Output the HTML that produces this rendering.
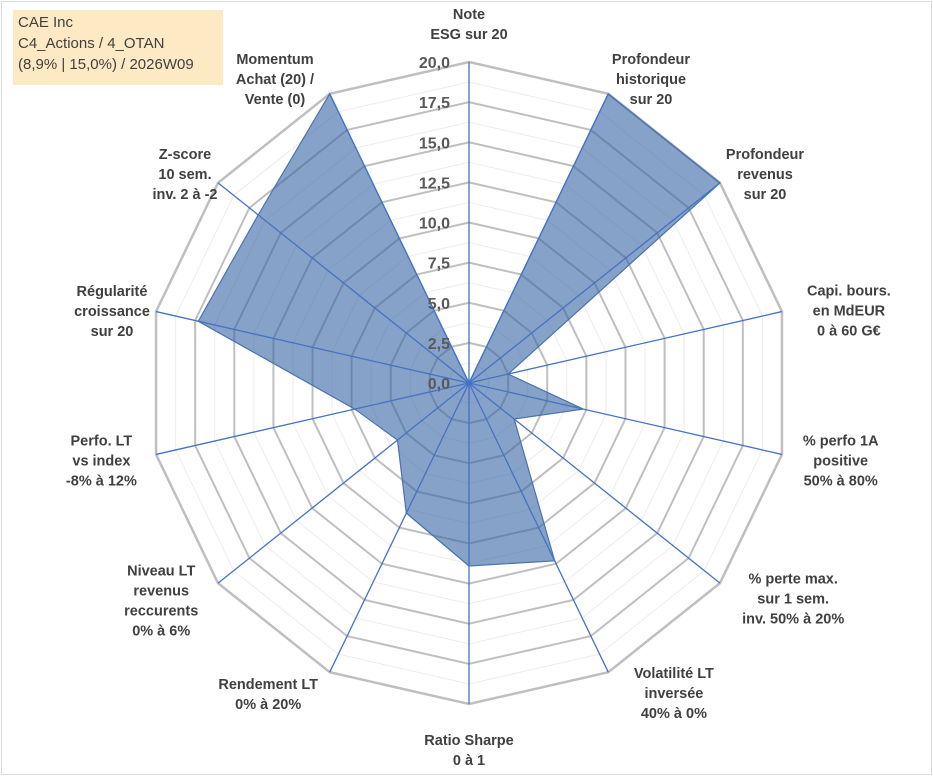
<!DOCTYPE html>
<html><head><meta charset="utf-8"><style>
body{margin:0;background:#fff;font-family:"Liberation Sans",sans-serif}
#wrap{position:relative;width:933px;height:776px;overflow:hidden}
#frame{position:absolute;left:1px;top:1px;width:929px;height:772px;border:1px solid #d9d9d9}
#info{position:absolute;left:13px;top:10px;width:210px;height:75px;background:#fde9c4;color:#404040;font-size:15px;line-height:21px;padding:2px 0 0 5px;box-sizing:border-box}
</style></head><body>
<div id="wrap">
<div id="frame"></div>
<svg id="chart" width="933" height="776" style="position:absolute;left:0;top:0"></svg>
<div id="info">CAE Inc<br>C4_Actions / 4_OTAN<br>(8,9% | 15,0%) / 2026W09</div>
</div>
<script>
const categories=[["Note","ESG sur 20"],["Profondeur","historique","sur 20"],["Profondeur","revenus","sur 20"],["Capi. bours.","en MdEUR","0 à 60 G€"],["% perfo 1A","positive","50% à 80%"],["% perte max.","sur 1 sem.","inv. 50% à 20%"],["Volatilité LT","inversée","40% à 0%"],["Ratio Sharpe","0 à 1"],["Rendement LT","0% à 20%"],["Niveau LT","revenus","reccurents","0% à 6%"],["Perfo. LT","vs index","-8% à 12%"],["Régularité","croissance","sur 20"],["Z-score","10 sem.","inv. 2 à -2"],["Momentum","Achat (20) /","Vente (0)"]];
const values=[0,20,20,2.5,7.3,3.6,12.3,11.4,9,5.7,7.3,17.3,16.8,20];
const tickLabels=["0,0","2,5","5,0","7,5","10,0","12,5","15,0","17,5","20,0"];
const maxVal=20;
const cx=469,cy=383,R=321,N=categories.length;
const labelYShift=[0,0,0,2,5,-20,-17,9,-6,-28,5,0,0,0];
const svg=document.getElementById('chart');
const NS="http://www.w3.org/2000/svg";
function ang(i){return i*2*Math.PI/N;}
function pt(i,v){const r=v/maxVal*R;return [cx+r*Math.sin(ang(i)),cy-r*Math.cos(ang(i))];}
function mk(t,a){const e=document.createElementNS(NS,t);for(const k in a)e.setAttribute(k,a[k]);svg.appendChild(e);return e;}
for(let k=1;k<=16;k++){const v=k*1.25;const pts=[];for(let i=0;i<N;i++)pts.push(pt(i,v).join(','));
 const major=k%2===0;
 const g=mk('polygon',{points:pts.join(' '),fill:'none',stroke:major?'#bfbfbf':'#ececec','stroke-width':major?(k===16?2.5:2):1});
 
 }
const sp=values.map((v,i)=>pt(i,v).join(',')).join(' ');
const poly=mk('polygon',{points:sp,fill:'rgb(55,100,165)','fill-opacity':0.6,stroke:'#4a72ae','stroke-width':1.2});


for(let i=0;i<N;i++){const p=pt(i,maxVal);
 const l=mk('line',{x1:cx,y1:cy,x2:p[0],y2:p[1],stroke:'#4472c4','stroke-width':1.3});
 
 }
tickLabels.forEach((t,k)=>{const v=k*2.5;const y=cy-v/maxVal*R;
 const tx=mk('text',{x:450,y:y+6,'text-anchor':'end','font-size':16,'font-weight':'bold',fill:'#595959','font-family':'Liberation Sans, sans-serif'});
 tx.textContent=t;
 
 });
categories.forEach((lines,i)=>{const a=ang(i);const s=Math.sin(a),c=-Math.cos(a);
 const off=R+(i===0?0:10);
 let x=cx+off*s,y=cy+off*c;
 let anchor='middle';
 if(s>0.3){anchor='start';x+=8;} else if(s<-0.3){anchor='end';x-=8;}
 const lh=20,h=lines.length*lh;
 let y0;
 if(i===0){y0=cy-R-h+12;}
 else if(Math.abs(s)<0.3&&c>0){y0=y+22;}
 else if(c<-0.5){y0=y-h+14;}
 else if(c>0.5){y0=y+14;}
 else y0=y-h/2+14;
 const bw=Math.max(...lines.map(l=>l.length))*8.2;
 let xc=anchor==='start'?x+bw/2:anchor==='end'?x-bw/2:x;
 if(i===13){xc=275;y0=64;} if(i===12){xc=185;y0=159;} if(i===11){xc=112;y0=296;}
 if(i===1){xc=651;y0=64;} if(i===2){xc=765;y0=159;} if(i===0){xc=469;y0=19;}
 y0+=labelYShift[i];
 const t=mk('text',{'text-anchor':'middle','font-size':14.5,'font-weight':'bold',fill:'#404040','font-family':'Liberation Sans, sans-serif'});
 
 
 lines.forEach((ln,j)=>{const ts=document.createElementNS(NS,'tspan');ts.setAttribute('x',xc);ts.setAttribute('y',y0+j*lh);ts.textContent=ln;t.appendChild(ts);});
});
</script>
</body></html>
